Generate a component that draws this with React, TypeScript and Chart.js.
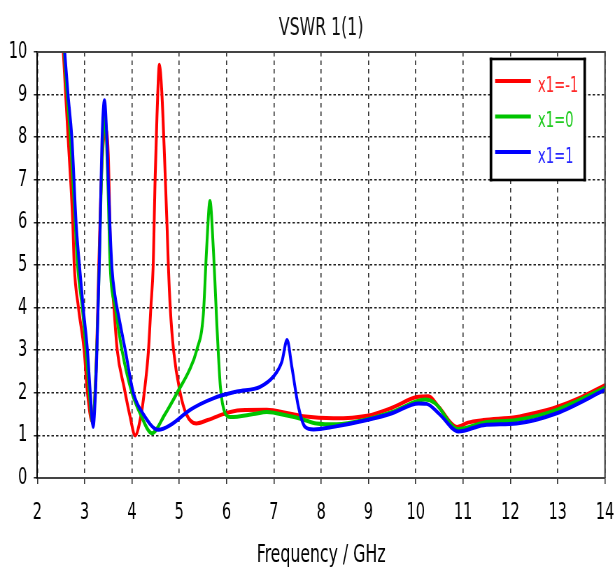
import React, { useEffect, useRef } from "react";
import { Chart, registerables } from "chart.js";

Chart.register(...registerables);

const TITLE = "VSWR 1(1)";
const X_TITLE = "Frequency / GHz";
const X_TICKS = [2, 3, 4, 5, 6, 7, 8, 9, 10, 11, 12, 13, 14];
const Y_TICKS = [0, 1, 2, 3, 4, 5, 6, 7, 8, 9, 10];

const SERIES_NAMES = ["x1=-1", "x1=0", "x1=1"];
const SERIES_COLORS = ["#ff0000", "#00c400", "#0000ff"];
const SERIES_TEXT_COLORS = ["#ff2a2a", "#22cc22", "#2a2aff"];

const redFreq = [2.55, 2.6, 2.65, 2.75, 2.78, 2.87, 2.99, 3.06, 3.16, 3.24, 3.3, 3.36, 3.44, 3.5, 3.55, 3.62, 3.69, 3.84, 3.95, 4.07, 4.18, 4.26, 4.35, 4.4, 4.45, 4.49, 4.53, 4.58, 4.63, 4.68, 4.74, 4.77, 4.81, 4.88, 5.02, 5.15, 5.36, 5.6, 5.93, 6.29, 6.85, 7.3, 7.62, 8.26, 8.97, 9.5, 10.02, 10.27, 10.5, 10.87, 11.1, 11.43, 12.13, 12.5, 12.98, 13.5, 14];
const redVswr = [10, 9.0, 8.0, 6.0, 5.0, 4.0, 3.0, 2.0, 1.32, 2.5, 5.0, 7.2, 8.2, 7.6, 5.2, 4.0, 3.0, 2.1, 1.5, 1.0, 1.4, 2.0, 3.0, 4.0, 5.0, 7.0, 8.5, 9.7, 9.1, 7.8, 6.0, 5.0, 4.0, 3.0, 2.0, 1.5, 1.28, 1.36, 1.5, 1.59, 1.6, 1.52, 1.45, 1.4, 1.46, 1.65, 1.9, 1.92, 1.65, 1.2, 1.3, 1.36, 1.43, 1.52, 1.67, 1.9, 2.18];

const greenFreq = [2.57, 2.63, 2.7, 2.8, 2.85, 2.95, 3.03, 3.1, 3.17, 3.24, 3.31, 3.37, 3.43, 3.49, 3.54, 3.65, 3.79, 4.0, 4.18, 4.42, 4.7, 4.99, 5.2, 5.37, 5.51, 5.58, 5.65, 5.72, 5.8, 5.87, 5.97, 6.08, 6.57, 6.85, 7.3, 7.6, 7.9, 8.33, 8.97, 9.5, 10.2, 10.4, 10.9, 11.43, 12.13, 12.98, 14];
const greenVswr = [10, 9.0, 8.0, 6.0, 5.0, 4.0, 3.0, 2.0, 1.28, 2.5, 5.0, 7.5, 8.5, 7.0, 5.0, 4.0, 3.0, 2.0, 1.5, 1.05, 1.5, 2.07, 2.5, 3.0, 3.85, 5.4, 6.5, 5.4, 3.5, 2.14, 1.52, 1.43, 1.5, 1.55, 1.46, 1.38, 1.28, 1.26, 1.38, 1.55, 1.84, 1.76, 1.15, 1.3, 1.36, 1.6, 2.12];

const blueFreq = [2.58, 2.65, 2.73, 2.82, 2.89, 2.97, 3.06, 3.12, 3.18, 3.23, 3.26, 3.31, 3.33, 3.37, 3.42, 3.47, 3.5, 3.54, 3.58, 3.64, 3.72, 3.86, 4.03, 4.24, 4.56, 4.81, 5.23, 5.72, 6.22, 6.71, 6.99, 7.17, 7.28, 7.38, 7.52, 7.66, 7.84, 8.26, 8.97, 9.5, 10.06, 10.23, 10.5, 10.9, 11.43, 12.13, 12.98, 14];
const blueVswr = [10, 9.0, 8.0, 6.0, 5.0, 4.0, 3.0, 2.0, 1.2, 2.0, 3.0, 5.0, 6.0, 8.0, 8.87, 8.0, 7.0, 5.8, 4.9, 4.3, 3.8, 3.0, 2.0, 1.5, 1.13, 1.24, 1.6, 1.87, 2.03, 2.14, 2.38, 2.73, 3.24, 2.61, 1.67, 1.2, 1.14, 1.2, 1.36, 1.52, 1.75, 1.74, 1.5, 1.09, 1.24, 1.28, 1.52, 2.07];

const FONT = "'DejaVu Sans Condensed', 'DejaVu Sans', sans-serif";

// The reference picture is horizontally compressed; the canvas is drawn wider and shown at 615px.
const DISPLAY_W = 615;
const DISPLAY_H = 571;
const CANVAS_W = 879;
const SX = CANVAS_W / DISPLAY_W;

function toPoints(xs: number[], ys: number[]) {
  return xs.map((x, i) => ({ x, y: ys[i] }));
}

const decorPlugin = {
  id: "decor",
  beforeDraw(chart: any) {
    const { ctx, width, height } = chart;
    ctx.save();
    ctx.fillStyle = "#ffffff";
    ctx.fillRect(0, 0, width, height);
    ctx.restore();
  },
  afterDraw(chart: any) {
    const { ctx, chartArea: a } = chart;
    ctx.save();
    // top and right frame
    ctx.fillStyle = "#444444";
    ctx.fillRect(a.left, a.top - 1, a.right - a.left, 2);
    ctx.fillRect(a.right - 1.1, a.top - 1, 2.2, a.bottom - a.top + 1);

    // title
    ctx.fillStyle = "#111111";
    ctx.font = `25px ${FONT}`;
    ctx.textAlign = "center";
    ctx.textBaseline = "alphabetic";
    ctx.fillText(TITLE, (a.left + a.right) / 2, 35);

    // legend
    const bx = a.right - 163;
    const by = a.top + 7;
    const bw = 134;
    const bh = 121;
    const tv = 2.6;
    const th = 2.6 * SX;
    ctx.fillStyle = "#ffffff";
    ctx.fillRect(bx, by, bw, bh);
    ctx.fillStyle = "#000000";
    ctx.fillRect(bx - th / 2, by - tv / 2, bw + th, tv);
    ctx.fillRect(bx - th / 2, by + bh - tv / 2, bw + th, tv);
    ctx.fillRect(bx - th / 2, by - tv / 2, th, bh + tv);
    ctx.fillRect(bx + bw - th / 2, by - tv / 2, th, bh + tv);
    ctx.font = `21px ${FONT}`;
    ctx.textAlign = "left";
    chart.data.datasets.forEach((ds: any, i: number) => {
      const ly = by + 22 + i * 35.5;
      ctx.strokeStyle = ds.borderColor;
      ctx.lineWidth = 4;
      ctx.lineCap = "butt";
      ctx.beginPath();
      ctx.moveTo(bx + 6, ly);
      ctx.lineTo(bx + 57, ly);
      ctx.stroke();
      ctx.fillStyle = SERIES_TEXT_COLORS[i];
      ctx.fillText(ds.label, bx + 67, ly + 10.5);
    });
    ctx.restore();
  },
};

export default function App() {
  const ref = useRef<HTMLCanvasElement | null>(null);

  useEffect(() => {
    if (!ref.current) return;
    const seriesX = [redFreq, greenFreq, blueFreq];
    const seriesY = [redVswr, greenVswr, blueVswr];
    const chart = new Chart(ref.current, {
      type: "line",
      data: {
        datasets: SERIES_NAMES.map((name, i) => ({
          label: name,
          data: toPoints(seriesX[i], seriesY[i]),
          borderColor: SERIES_COLORS[i],
          backgroundColor: SERIES_COLORS[i],
          borderWidth: 4,
          pointRadius: 0,
          cubicInterpolationMode: "monotone" as const,
          order: 2 - i,
        })),
      },
      options: {
        animation: false,
        responsive: false,
        maintainAspectRatio: false,
        devicePixelRatio: 1,
        layout: { padding: { left: 0, right: 14.3, top: 52, bottom: 1 } },
        plugins: {
          legend: { display: false },
          title: { display: false },
          tooltip: { enabled: false },
        },
        scales: {
          x: {
            type: "linear",
            min: 2,
            max: 14,
            afterBuildTicks: (scale: any) => {
              scale.ticks = X_TICKS.map((v) => ({ value: v }));
            },
            afterFit: (scale: any) => {
              scale.height = 92;
              scale.paddingLeft = 0;
              scale.paddingRight = 0;
            },
            ticks: {
              color: "#000000",
              font: { family: FONT, size: 23 },
              padding: 15,
              maxRotation: 0,
              autoSkip: false,
            },
            grid: {
              color: "#333333",
              lineWidth: 1.6,
              drawTicks: true,
              tickLength: 6,
              tickColor: "#333333",
              tickWidth: 1.6,
              tickBorderDash: [],
            } as any,
            border: { display: true, color: "#444444", width: 2, dash: [4.5, 4] },
            title: {
              display: true,
              text: X_TITLE,
              color: "#000000",
              font: { family: FONT, size: 25 },
              padding: { top: 0, bottom: 0 },
            },
          },
          y: {
            type: "linear",
            min: 0,
            max: 10,
            afterBuildTicks: (scale: any) => {
              scale.ticks = Y_TICKS.map((v) => ({ value: v }));
            },
            afterFit: (scale: any) => {
              scale.width = 53.3;
              scale.paddingTop = 0;
              scale.paddingBottom = 0;
            },
            ticks: {
              color: "#000000",
              font: { family: FONT, size: 23 },
              padding: 9.5,
              autoSkip: false,
            },
            grid: {
              color: "#222222",
              lineWidth: 1.5,
              drawTicks: true,
              tickLength: 5,
              tickColor: "#222222",
              tickWidth: 1.5,
              tickBorderDash: [],
            } as any,
            border: { display: true, color: "#000000", width: 2, dash: [3.5, 3] },
          },
        },
      },
      plugins: [decorPlugin],
    } as any);
    return () => chart.destroy();
  }, []);

  return (
    <div style={{ position: "absolute", left: 0, top: 0, width: DISPLAY_W, height: DISPLAY_H, background: "#fff" }}>
      <canvas
        ref={ref}
        width={CANVAS_W}
        height={DISPLAY_H}
        style={{ width: DISPLAY_W, height: DISPLAY_H, display: "block" }}
      />
    </div>
  );
}
